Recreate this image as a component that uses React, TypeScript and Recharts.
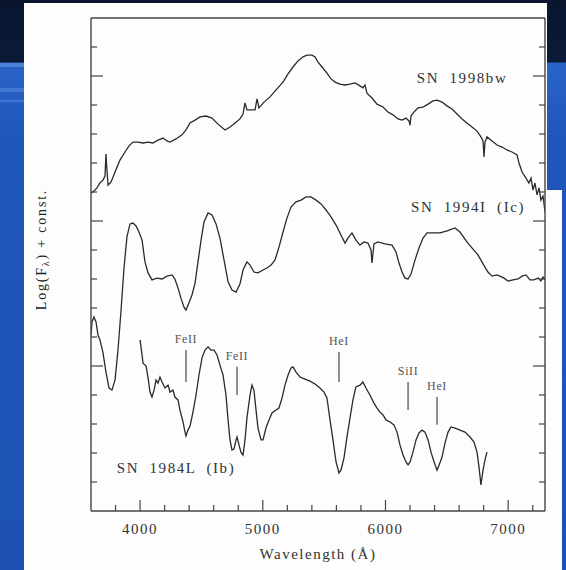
import React from "react";
import { LineChart, Line, XAxis, YAxis, ReferenceLine, ReferenceDot } from "recharts";

// [wavelength (Å), log flux + const]
const sn1998bw: [number, number][] = [
  [3600, 10.97], [3616, 11.0], [3649, 11.14], [3673, 11.31], [3698, 11.41], [3714, 11.55],
  [3722, 12.31], [3730, 11.76], [3739, 11.24], [3763, 11.34], [3796, 11.69], [3836, 12.1],
  [3877, 12.38], [3910, 12.59], [3942, 12.72], [3983, 12.72], [4024, 12.69], [4065, 12.72],
  [4105, 12.69], [4146, 12.79], [4187, 12.86], [4219, 12.76], [4244, 12.72], [4293, 12.83],
  [4342, 12.97], [4374, 13.14], [4407, 13.38], [4448, 13.48], [4488, 13.59], [4537, 13.62],
  [4586, 13.55], [4635, 13.34], [4692, 13.14], [4733, 13.24], [4774, 13.38], [4814, 13.52],
  [4839, 13.69], [4855, 14.07], [4871, 13.83], [4896, 13.83], [4937, 13.83], [4953, 14.21],
  [4969, 13.9], [5010, 14.1], [5059, 14.28], [5108, 14.52], [5165, 14.79], [5206, 15.07],
  [5246, 15.31], [5287, 15.52], [5328, 15.66], [5360, 15.72], [5401, 15.72], [5426, 15.66],
  [5450, 15.48], [5483, 15.31], [5523, 15.1], [5556, 14.9], [5589, 14.79], [5629, 14.72],
  [5670, 14.69], [5710, 14.72], [5752, 14.76], [5792, 14.66], [5816, 14.59], [5833, 14.69],
  [5849, 14.41], [5890, 14.24], [5931, 14.03], [5980, 13.93], [6020, 13.76], [6061, 13.66],
  [6102, 13.52], [6135, 13.48], [6167, 13.55], [6192, 13.45], [6200, 13.3], [6208, 13.62],
  [6233, 13.76], [6265, 13.9], [6306, 13.93], [6347, 14.03], [6387, 14.14], [6420, 14.17],
  [6461, 14.1], [6501, 13.97], [6542, 13.86], [6583, 13.69], [6624, 13.52], [6664, 13.38],
  [6705, 13.24], [6746, 13.1], [6778, 12.9], [6795, 12.76], [6803, 12.21], [6811, 12.72],
  [6827, 12.9], [6868, 12.76], [6909, 12.62], [6950, 12.55], [6990, 12.45], [7031, 12.38],
  [7072, 12.28], [7088, 12.0], [7113, 11.69], [7145, 11.48], [7169, 11.31], [7186, 11.48],
  [7202, 11.07], [7218, 11.31], [7235, 10.9], [7251, 11.14], [7267, 10.72], [7284, 10.86],
  [7300, 10.31],
];

const sn1994I: [number, number][] = [
  [3600, 6.07], [3608, 6.52], [3624, 6.69], [3641, 6.52], [3657, 6.07], [3673, 5.9],
  [3698, 5.45], [3722, 4.79], [3747, 4.24], [3771, 4.17], [3796, 4.52], [3820, 5.55],
  [3845, 6.93], [3869, 8.38], [3893, 9.45], [3918, 9.9], [3942, 9.93], [3967, 9.83],
  [3991, 9.62], [4016, 9.34], [4040, 8.59], [4065, 8.21], [4097, 7.97], [4138, 8.03],
  [4179, 8.0], [4219, 8.1], [4260, 8.14], [4284, 8.0], [4309, 7.69], [4333, 7.34],
  [4358, 7.03], [4374, 6.93], [4398, 7.17], [4423, 7.45], [4448, 7.86], [4472, 8.59],
  [4497, 9.34], [4521, 9.97], [4554, 10.28], [4586, 10.21], [4619, 9.9], [4651, 9.41],
  [4684, 8.66], [4717, 7.9], [4749, 7.62], [4782, 7.55], [4814, 7.83], [4839, 8.31],
  [4871, 8.59], [4896, 8.48], [4928, 8.24], [4961, 8.21], [5002, 8.31], [5034, 8.38],
  [5067, 8.48], [5100, 8.66], [5132, 9.1], [5165, 9.62], [5197, 10.1], [5230, 10.48],
  [5271, 10.66], [5312, 10.72], [5352, 10.83], [5393, 10.83], [5434, 10.72], [5475, 10.59],
  [5515, 10.38], [5556, 10.14], [5597, 9.86], [5637, 9.52], [5670, 9.24], [5694, 9.41],
  [5727, 9.59], [5759, 9.34], [5792, 9.17], [5824, 9.28], [5857, 9.24], [5882, 9.0],
  [5890, 8.55], [5906, 9.21], [5939, 9.28], [5996, 9.21], [6053, 9.17], [6086, 8.93],
  [6110, 8.55], [6135, 8.24], [6159, 8.03], [6184, 8.0], [6208, 8.17], [6241, 8.66],
  [6273, 9.07], [6306, 9.41], [6339, 9.59], [6387, 9.59], [6445, 9.59], [6502, 9.66],
  [6567, 9.76], [6607, 9.62], [6664, 9.28], [6713, 9.03], [6754, 8.83], [6795, 8.52],
  [6835, 8.24], [6868, 8.1], [6909, 8.14], [6933, 8.1], [6966, 8.03], [6998, 7.93],
  [7039, 7.97], [7080, 8.0], [7113, 8.1], [7145, 8.14], [7178, 7.97], [7210, 7.97],
  [7243, 8.03], [7267, 7.93], [7284, 8.07], [7300, 7.97],
];

const sn1984L: [number, number][] = [
  [4000, 5.9], [4016, 5.38], [4024, 5.1], [4049, 5.0], [4065, 4.59], [4081, 4.1],
  [4097, 3.93], [4114, 4.17], [4130, 4.52], [4146, 4.41], [4162, 4.62], [4179, 4.45],
  [4203, 4.24], [4228, 4.34], [4244, 4.1], [4268, 4.17], [4284, 3.93], [4309, 3.83],
  [4325, 3.48], [4350, 3.07], [4366, 2.72], [4374, 2.59], [4390, 2.79], [4407, 2.93],
  [4431, 3.41], [4456, 4.0], [4480, 4.69], [4505, 5.28], [4529, 5.55], [4554, 5.66],
  [4578, 5.55], [4603, 5.55], [4627, 5.38], [4651, 5.03], [4676, 4.69], [4700, 4.0],
  [4717, 3.14], [4733, 2.45], [4749, 2.1], [4766, 2.14], [4782, 2.45], [4790, 2.55],
  [4806, 2.28], [4822, 2.03], [4839, 1.93], [4855, 2.45], [4871, 3.21], [4896, 4.0],
  [4912, 4.34], [4928, 4.17], [4945, 3.48], [4961, 2.86], [4986, 2.45], [5002, 2.45],
  [5026, 2.86], [5051, 3.14], [5075, 3.38], [5108, 3.48], [5132, 3.55], [5157, 3.9],
  [5181, 4.34], [5206, 4.69], [5230, 4.93], [5246, 4.97], [5271, 4.79], [5303, 4.62],
  [5344, 4.55], [5385, 4.48], [5426, 4.38], [5466, 4.24], [5499, 4.1], [5523, 3.9],
  [5548, 3.14], [5572, 2.45], [5597, 1.69], [5621, 1.31], [5637, 1.41], [5662, 1.83],
  [5686, 2.55], [5711, 3.21], [5735, 3.83], [5759, 4.28], [5792, 4.34], [5816, 4.45],
  [5841, 4.24], [5873, 4.0], [5906, 3.72], [5931, 3.55], [5955, 3.41], [5980, 3.31],
  [6004, 3.14], [6037, 3.07], [6069, 2.97], [6094, 2.72], [6118, 2.28], [6143, 1.93],
  [6167, 1.69], [6184, 1.59], [6200, 1.69], [6224, 2.03], [6249, 2.45], [6273, 2.69],
  [6298, 2.79], [6322, 2.72], [6347, 2.45], [6371, 2.03], [6396, 1.69], [6420, 1.41],
  [6437, 1.59], [6461, 1.86], [6485, 2.34], [6510, 2.72], [6534, 2.9], [6567, 2.86],
  [6607, 2.79], [6648, 2.72], [6689, 2.55], [6721, 2.38], [6746, 2.03], [6762, 1.52],
  [6778, 0.9], [6795, 1.41], [6811, 1.76], [6827, 2.03],
];

// spectrum names and where they sit
const spectrumNames = ["SN 1998bw", "SN 1994I (Ic)", "SN 1984L (Ib)"];
const nameAt: [number, number][] = [[6624, 14.93], [6673, 10.48], [4293, 1.48]];

// line identifications: name, wavelength, top and bottom of the marker
const lineNames = ["FeII", "FeII", "HeI", "SiII", "HeI"];
const lineWave = [4374, 4790, 5621, 6184, 6420];
const lineTop = [5.55, 4.97, 5.48, 4.45, 3.93];
const lineBottom = [4.45, 4.0, 4.45, 3.48, 2.97];

const xTicks = [3800, 4000, 4200, 4400, 4600, 4800, 5000, 5200, 5400, 5600, 5800, 6000, 6200, 6400, 6600, 6800, 7000, 7200];
const yTicks = [1, 2, 3, 4, 5, 6, 7, 8, 9, 10, 11, 12, 13, 14, 15, 16];

const INK = "#2a2a2a";
const AXIS = "#444";
const SERIF = "'Liberation Serif', 'Times New Roman', serif";

const toRows = (s: [number, number][]) => s.map(([w, f]) => ({ w, f }));

function BottomTick({ x, y, payload }: any) {
  const major = payload.value % 1000 === 0;
  return (
    <g>
      <line x1={x} x2={x} y1={y} y2={y - (major ? 11 : 6)} stroke={AXIS} strokeWidth={1.2} />
      {major && (
        <text x={x} y={y + 23} textAnchor="middle" fontFamily={SERIF} fontSize={15} letterSpacing={1.5} fill="#333">
          {payload.value}
        </text>
      )}
    </g>
  );
}

function TopTick({ x, y, payload }: any) {
  const major = payload.value % 1000 === 0;
  return <line x1={x} x2={x} y1={y} y2={y + (major ? 12 : 6)} stroke={AXIS} strokeWidth={1.2} />;
}

function LeftTick({ x, y, payload }: any) {
  const major = payload.value % 5 === 0;
  return <line x1={x} x2={x + (major ? 12 : 6)} y1={y} y2={y} stroke={AXIS} strokeWidth={1.2} />;
}

function RightTick({ x, y, payload }: any) {
  const major = payload.value % 5 === 0;
  return <line x1={x} x2={x - (major ? 12 : 6)} y1={y} y2={y} stroke={AXIS} strokeWidth={1.2} />;
}

function YTitle({ viewBox }: any) {
  const cx = viewBox.x - 49;
  const cy = viewBox.y + viewBox.height / 2 - 15;
  return (
    <text
      x={cx}
      y={cy}
      transform={`rotate(-90, ${cx}, ${cy})`}
      textAnchor="middle"
      dominantBaseline="central"
      fontFamily={SERIF}
      fontSize={14}
      letterSpacing={1.8}
      fill="#222"
    >
      <tspan>Log(F</tspan>
      <tspan fontSize={10} dy={4}>λ</tspan>
      <tspan dy={-4}>) + const.</tspan>
    </text>
  );
}

export default function App() {
  return (
    <div
      style={{
        position: "absolute",
        left: 0,
        top: 0,
        width: 566,
        height: 570,
        overflow: "hidden",
        background: "linear-gradient(to bottom, #0a1630 0px, #0b1a38 62px, #2a63c8 63px, #1f56ba 140px, #1d52b4 570px)",
      }}
    >
      {/* slide stripes on the left */}
      <div style={{ position: "absolute", left: 0, top: 63, width: 24, height: 4, background: "#4d82d9" }} />
      <div style={{ position: "absolute", left: 0, top: 88, width: 24, height: 4, background: "#3f76d2" }} />
      <div style={{ position: "absolute", left: 0, top: 100, width: 24, height: 2, background: "#3f76d2" }} />
      {/* white figure panel */}
      <div style={{ position: "absolute", left: 24, top: 3, width: 523, height: 567, background: "#fdfdfd" }} />
      <div style={{ position: "absolute", left: 547, top: 190, width: 15, height: 380, background: "#fdfdfd" }} />

      <div style={{ position: "absolute", left: 0, top: 0 }}>
        <LineChart width={566} height={570} margin={{ top: 17, right: 20, bottom: 58, left: 90 }}>
          <XAxis
            dataKey="w"
            type="number"
            domain={[3600, 7300]}
            ticks={xTicks}
            interval={0}
            height={1}
            tickSize={0}
            tickMargin={0}
            tick={<BottomTick />}
            tickLine={false}
            axisLine={{ stroke: AXIS, strokeWidth: 1.4 }}
            allowDataOverflow
            label={{
              value: "Wavelength (Å)",
              position: "bottom",
              offset: 36,
              fontFamily: SERIF,
              fontSize: 15,
              letterSpacing: 1.5,
              fill: "#333",
            }}
          />
          <XAxis
            xAxisId="top"
            orientation="top"
            type="number"
            domain={[3600, 7300]}
            ticks={xTicks}
            interval={0}
            height={1}
            tickSize={0}
            tickMargin={0}
            tick={<TopTick />}
            tickLine={false}
            axisLine={{ stroke: AXIS, strokeWidth: 1.4 }}
            allowDataOverflow
          />
          <YAxis
            type="number"
            domain={[0, 17]}
            ticks={yTicks}
            interval={0}
            width={1}
            tickSize={0}
            tickMargin={0}
            tick={<LeftTick />}
            tickLine={false}
            axisLine={{ stroke: AXIS, strokeWidth: 1.4 }}
            allowDataOverflow
            label={{ content: <YTitle /> }}
          />
          <YAxis
            yAxisId="right"
            orientation="right"
            type="number"
            domain={[0, 17]}
            ticks={yTicks}
            interval={0}
            width={1}
            tickSize={0}
            tickMargin={0}
            tick={<RightTick />}
            tickLine={false}
            axisLine={{ stroke: AXIS, strokeWidth: 1.4 }}
            allowDataOverflow
          />

          {[sn1998bw, sn1994I, sn1984L].map((s, i) => (
            <Line
              key={spectrumNames[i]}
              data={toRows(s)}
              dataKey="f"
              type="linear"
              stroke={INK}
              strokeWidth={1.3}
              dot={false}
              isAnimationActive={false}
            />
          ))}

          {lineNames.map((n, i) => (
            <ReferenceLine
              key={`${n}-${i}`}
              segment={[
                { x: lineWave[i], y: lineTop[i] },
                { x: lineWave[i], y: lineBottom[i] },
              ]}
              stroke="#555"
              strokeWidth={1.3}
              label={{
                value: n,
                position: "top",
                offset: 7,
                fontFamily: SERIF,
                fontSize: 12,
                letterSpacing: 0.6,
                fill: "#555",
              }}
            />
          ))}

          {spectrumNames.map((n, i) => (
            <ReferenceDot
              key={n}
              x={nameAt[i][0]}
              y={nameAt[i][1]}
              r={0}
              fill="none"
              stroke="none"
              label={{
                value: n,
                position: "center",
                fontFamily: SERIF,
                fontSize: 15,
                letterSpacing: 1.6,
                wordSpacing: 5,
                fill: "#333",
              }}
            />
          ))}
        </LineChart>
      </div>
    </div>
  );
}
